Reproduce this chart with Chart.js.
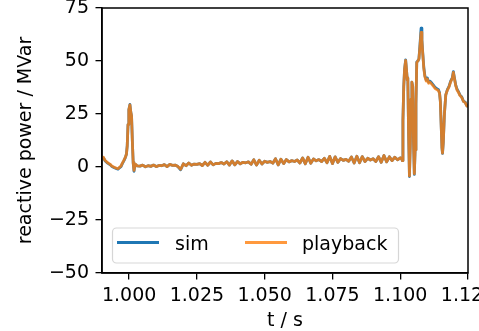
<!DOCTYPE html>
<html>
<head>
<meta charset="utf-8">
<script src="https://cdn.jsdelivr.net/npm/chart.js@4/dist/chart.umd.min.js"></script>
<style>
  html, body { margin: 0; padding: 0; background: #fff; overflow: hidden; }
  canvas { display: block; }
</style>
</head>
<body>
<canvas id="chart" width="479" height="331"></canvas>
<script>
const seriesNames = ["sim", "playback"];
const xTicks = [1.000, 1.025, 1.050, 1.075, 1.100, 1.125];
const yTicks = [-50, -25, 0, 25, 50, 75];

const times = [
    0.9900, 0.9905, 0.9911, 0.9916, 0.9921, 0.9926, 0.9930, 0.9935, 0.9940, 0.9948,
    0.9954, 0.9959, 0.9964, 0.9970, 0.9975, 0.9981, 0.9986, 0.9990, 0.9993, 0.9996,
    0.9999, 1.0003, 1.0006, 1.0009, 1.0012, 1.0015, 1.0018, 1.0021, 1.0025, 1.0030,
    1.004, 1.005, 1.006, 1.007, 1.008, 1.009, 1.010, 1.011, 1.012, 1.013,
    1.014, 1.015, 1.016, 1.017, 1.018, 1.019, 1.020, 1.021, 1.022, 1.023,
    1.024, 1.025, 1.026, 1.027, 1.028, 1.029, 1.030, 1.031, 1.032, 1.033,
    1.034, 1.035, 1.036, 1.037, 1.038, 1.039, 1.040, 1.041, 1.042, 1.043,
    1.044, 1.045, 1.046, 1.047, 1.048, 1.049, 1.050, 1.051, 1.052, 1.053,
    1.054, 1.055, 1.056, 1.057, 1.058, 1.059, 1.060, 1.061, 1.062, 1.063,
    1.064, 1.065, 1.066, 1.067, 1.068, 1.069, 1.070, 1.071, 1.072, 1.073,
    1.074, 1.075, 1.076, 1.077, 1.078, 1.079, 1.080, 1.081, 1.082, 1.083,
    1.084, 1.085, 1.086, 1.087, 1.088, 1.089, 1.090, 1.091, 1.092, 1.093,
    1.094, 1.095, 1.096, 1.097, 1.098, 1.099, 1.100,
    1.1005, 1.1008, 1.1010, 1.1013, 1.1016, 1.1020, 1.1023, 1.1026, 1.1028, 1.1031,
    1.1034, 1.1037, 1.1040, 1.1043, 1.1046, 1.1049, 1.1052, 1.1055, 1.1058, 1.1061,
    1.1065, 1.1069, 1.1073, 1.1077, 1.1080, 1.1083, 1.1087, 1.1091, 1.1096, 1.1100,
    1.1105, 1.1110, 1.1117, 1.1123, 1.1129, 1.1135, 1.1141, 1.1145, 1.1148, 1.1151,
    1.1154, 1.1156, 1.1159, 1.1163, 1.1168, 1.1174, 1.1180, 1.1186, 1.1192, 1.1196,
    1.1200, 1.1205, 1.1210, 1.1215, 1.1220, 1.1227, 1.1233, 1.1240, 1.1245, 1.1250
];

const simValues = [
    4.0, 4.4, 3.0, 2.4, 1.8, 1.4, 1.1, 0.4, 0.0, -0.5,
    -0.8, -1.0, -0.4, 0.2, 1.6, 3.0, 4.4, 6.0, 10.0, 20.0,
    27.0, 29.5, 26.0, 24.0, 12.0, 2.0, -2.0, 0.4, 1.1, 0.5,
    0.4, 0.9, 0.1, 0.6, 0.3, 0.9, 0.2, 0.7, 0.6, 1.1,
    0.2, 1.2, 0.8, 0.9, 0.2, -1.3, 1.5, 0.6, 1.9, 0.8,
    1.4, 1.2, 1.6, 0.7, 2.2, 0.8, 2.4, 1.0, 1.7, 1.6,
    2.1, 1.4, 2.5, 0.9, 2.9, 1.0, 2.6, 1.5, 2.2, 2.0,
    2.4, 1.3, 3.4, 0.9, 3.2, 1.4, 2.7, 2.2, 2.6, 1.8,
    3.9, 1.0, 3.7, 1.6, 3.5, 2.4, 3.0, 2.6, 3.3, 1.9,
    4.3, 1.5, 4.6, 1.8, 3.8, 2.9, 3.5, 2.6, 4.1, 2.0,
    5.0, 1.6, 4.8, 2.2, 4.0, 3.1, 3.6, 2.7, 4.7, 1.9,
    5.1, 2.0, 4.9, 2.6, 4.1, 3.3, 3.9, 2.6, 4.9, 2.2,
    5.4, 2.4, 4.8, 3.0, 4.6, 3.4, 4.3,
    4.0, 3.0, 22.0, 38.0, 46.0, 50.5, 46.0, 41.0, 42.0, 15.0,
    -4.5, 10.0, 32.0, 40.0, 38.0, 12.0, -3.5, 8.0, 30.0, 49.5,
    50.0, 51.0, 58.0, 65.5, 60.0, 54.0, 47.0, 43.0, 41.0, 42.0,
    40.0, 40.5, 39.5, 38.5, 37.5, 37.0, 36.5, 35.0, 31.0, 20.0,
    9.0, 6.4, 12.0, 25.0, 34.0, 36.5, 38.0, 40.5, 42.0, 45.0,
    42.0, 38.5, 36.5, 35.5, 34.0, 33.0, 31.0, 30.5, 29.0, 28.4
];

const playbackValues = [
    4.3, 4.6, 3.2, 2.6, 2.0, 1.6, 1.3, 0.6, 0.2, -0.3,
    -0.6, -0.8, -0.2, 0.4, 1.8, 3.2, 4.5, 6.0, 10.0, 20.0,
    27.0, 29.3, 26.0, 24.0, 12.0, 2.0, -1.6, 0.5, 1.2, 0.5,
    0.4, 0.9, 0.1, 0.6, 0.3, 0.9, 0.2, 0.7, 0.6, 1.1,
    0.2, 1.2, 0.8, 0.9, 0.2, -1.1, 1.5, 0.6, 1.9, 0.8,
    1.4, 1.2, 1.6, 0.7, 2.2, 0.8, 2.4, 1.0, 1.7, 1.6,
    2.1, 1.4, 2.5, 0.9, 2.9, 1.0, 2.6, 1.5, 2.2, 2.0,
    2.4, 1.3, 3.4, 0.9, 3.2, 1.4, 2.7, 2.2, 2.6, 1.8,
    3.9, 1.0, 3.7, 1.6, 3.5, 2.4, 3.0, 2.6, 3.3, 1.9,
    4.3, 1.5, 4.6, 1.8, 3.8, 2.9, 3.5, 2.6, 4.1, 2.0,
    5.0, 1.6, 4.8, 2.2, 4.0, 3.1, 3.6, 2.7, 4.7, 1.9,
    5.1, 2.0, 4.9, 2.6, 4.1, 3.3, 3.9, 2.6, 4.9, 2.2,
    5.4, 2.4, 4.8, 3.0, 4.6, 3.4, 4.3,
    4.0, 3.0, 22.0, 38.0, 46.0, 50.3, 46.0, 41.0, 42.0, 15.0,
    -4.2, 10.0, 32.0, 40.0, 38.0, 12.0, -3.2, 8.0, 30.0, 49.3,
    50.0, 51.0, 57.0, 63.5, 59.5, 53.5, 46.5, 42.5, 40.5, 41.5,
    39.5, 40.0, 39.0, 38.0, 37.0, 36.5, 36.0, 34.8, 31.0, 20.0,
    9.0, 6.6, 12.0, 25.0, 34.0, 36.3, 37.8, 40.2, 41.8, 44.6,
    41.8, 38.2, 36.2, 35.2, 33.8, 32.8, 31.0, 30.3, 28.9, 28.4
];

const FONT = { family: "'DejaVu Sans', sans-serif", size: 19 };
Chart.defaults.color = "#000";
Chart.defaults.font.family = FONT.family;
Chart.defaults.font.size = FONT.size;

function toPoints(xs, ys) {
    return xs.map((x, i) => ({ x: x, y: ys[i] }));
}

function fixTicks(values) {
    return scale => { scale.ticks = values.map(v => ({ value: v })); };
}

// box around the plot area, like matplotlib spines
const framePlugin = {
    id: "frame",
    afterDatasetsDraw(chart) {
        const { ctx, chartArea: a } = chart;
        ctx.save();
        ctx.strokeStyle = "#000";
        ctx.lineWidth = 1.5;
        ctx.strokeRect(a.left, a.top, a.right - a.left, a.bottom - a.top);
        ctx.restore();
    }
};

// legend inside the axes, lower left
const legendPlugin = {
    id: "insideLegend",
    afterDraw(chart) {
        const ctx = chart.ctx;
        const x = 112.5, y = 228, w = 286, h = 35, r = 4;
        ctx.save();
        ctx.beginPath();
        ctx.roundRect(x, y, w, h, r);
        ctx.fillStyle = "rgba(255,255,255,0.8)";
        ctx.fill();
        ctx.strokeStyle = "rgba(204,204,204,0.8)";
        ctx.lineWidth = 1.2;
        ctx.stroke();

        const items = [
            { lineX: 117, textX: 175 },
            { lineX: 245, textX: 302 }
        ];
        ctx.font = FONT.size + "px " + FONT.family;
        ctx.textBaseline = "alphabetic";
        ctx.textAlign = "left";
        chart.data.datasets.forEach((ds, i) => {
            const it = items[i];
            ctx.beginPath();
            ctx.moveTo(it.lineX, 242.5);
            ctx.lineTo(it.lineX + 42, 242.5);
            ctx.strokeStyle = ds.borderColor;
            ctx.lineWidth = 2.8;
            ctx.stroke();
            ctx.fillStyle = "#000";
            ctx.fillText(ds.label, it.textX, 250);
        });
        ctx.restore();
    }
};

new Chart(document.getElementById("chart"), {
    type: "line",
    data: {
        datasets: [
            {
                label: seriesNames[0],
                data: toPoints(times, simValues),
                borderColor: "#1f77b4",
                borderWidth: 2.8,
                pointRadius: 0,
                tension: 0,
                borderJoinStyle: "round",
                order: 1
            },
            {
                label: seriesNames[1],
                data: toPoints(times, playbackValues),
                borderColor: "rgba(255,127,14,0.8)",
                borderWidth: 2.8,
                pointRadius: 0,
                tension: 0,
                borderJoinStyle: "round",
                order: 0
            }
        ]
    },
    options: {
        responsive: false,
        animation: false,
        devicePixelRatio: 1,
        layout: { padding: { left: 0, right: 11, top: 8, bottom: 0 } },
        plugins: {
            legend: { display: false },
            tooltip: { enabled: false }
        },
        scales: {
            x: {
                type: "linear",
                min: 0.99,
                max: 1.125,
                afterBuildTicks: fixTicks(xTicks),
                afterFit: s => { s.height = 58; s.paddingLeft = 0; s.paddingRight = 0; },
                ticks: {
                    callback: v => v.toFixed(3),
                    maxRotation: 0,
                    autoSkip: false,
                    padding: 5
                },
                grid: { drawOnChartArea: false, drawTicks: true, tickLength: 6.5, tickColor: "#000", lineWidth: 1.3 },
                border: { display: true, color: "#000", width: 1.5 },
                title: {
                    display: true,
                    text: "t / s",
                    font: { size: FONT.size, lineHeight: 1 },
                    padding: { top: 0, bottom: 0 }
                }
            },
            y: {
                min: -50,
                max: 75,
                afterBuildTicks: fixTicks(yTicks),
                afterFit: s => { s.width = 102; s.paddingTop = 0; s.paddingBottom = 0; },
                ticks: {
                    callback: v => (v < 0 ? "\u2212" + Math.abs(v) : String(v)),
                    padding: 6.5,
                    autoSkip: false
                },
                grid: { drawOnChartArea: false, drawTicks: true, tickLength: 6.5, tickColor: "#000", lineWidth: 1.3 },
                border: { display: true, color: "#000", width: 1.5 },
                title: {
                    display: true,
                    text: "reactive power / MVar",
                    font: { size: FONT.size, lineHeight: 1 },
                    padding: { top: 17, bottom: 0 }
                }
            }
        }
    },
    plugins: [framePlugin, legendPlugin]
});
</script>
</body>
</html>
